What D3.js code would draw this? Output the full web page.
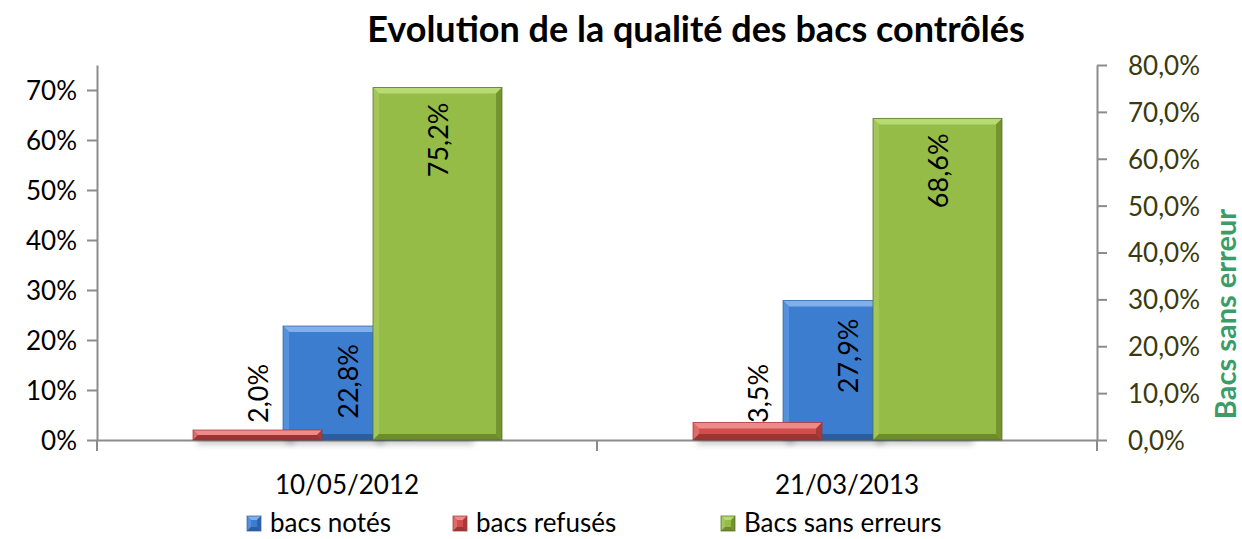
<!DOCTYPE html>
<html>
<head>
<meta charset="utf-8">
<script src="https://cdn.jsdelivr.net/npm/d3@7"></script>
<style>
  body { margin: 0; background: #fff; }
  svg { display: block; font-family: Lato, "Open Sans", sans-serif; }
</style>
</head>
<body>
<div id="chart"></div>
<script>
"use strict";

// Data
const dates = ["10/05/2012", "21/03/2013"];
const notes = [0.228, 0.279];        // bacs notés (left axis)
const refuses = [0.020, 0.035];      // bacs refusés (left axis)
const sansErreurs = [0.752, 0.686];  // Bacs sans erreurs (right axis)
const leftTicks = [0, 0.1, 0.2, 0.3, 0.4, 0.5, 0.6, 0.7];
const rightTicks = [0, 0.1, 0.2, 0.3, 0.4, 0.5, 0.6, 0.7, 0.8];
const seriesNames = ["bacs notés", "bacs refusés", "Bacs sans erreurs"];

const width = 1242, height = 539;
const plotLeft = 97, plotRight = 1097, plotTop = 65, plotBottom = 440;

const pct0 = d3.format(".0%");
const frPct1 = v => (v * 100).toFixed(1).replace(".", ",") + "%";

// colours: body and the four bevel facets
const pal = {
    blue:  {body: "#3c7dd0", top: "#7fb0ec", left: "#5590dc", right: "#2f63a8", bottom: "#2c5d9e", stroke: "#2d5f9e"},
    red:   {body: "#d14e4d", top: "#ee8b88", left: "#e06a68", right: "#a83b39", bottom: "#9a3533", stroke: "#9a3533"},
    green: {body: "#95bc47", top: "#b8da72", left: "#a3c757", right: "#74942f", bottom: "#6d8c2c", stroke: "#4f6a1e"}
};

const x = d3.scaleBand().domain(dates).range([plotLeft, plotRight]).padding(0);
const bw = x.bandwidth();
// position of each series inside a category (bar centres)
const xs = d3.scalePoint().domain(["refuses", "notes", "sans"]).range([bw * 0.321, bw * 0.681]);
const barW = bw * 0.258;

const yL = d3.scaleLinear().domain([0, 0.75]).range([plotBottom, plotTop]);
const yR = d3.scaleLinear().domain([0, 0.8]).range([plotBottom, plotTop]);

const svg = d3.select("#chart").append("svg")
    .attr("width", width)
    .attr("height", height)
    .attr("viewBox", [0, 0, width, height]);

const defs = svg.append("defs");
defs.append("filter").attr("id", "blur").attr("x", "-20%").attr("y", "-100%").attr("width", "140%").attr("height", "300%")
    .append("feGaussianBlur").attr("stdDeviation", 3);

// title
svg.append("text")
    .attr("x", 696).attr("y", 42)
    .attr("text-anchor", "middle")
    .attr("font-weight", "bold")
    .attr("font-size", 36)
    .attr("fill", "#000")
    .text("Evolution de la qualité des bacs contrôlés");

// left axis
const gL = svg.append("g")
    .attr("transform", `translate(${plotLeft},0)`)
    .call(d3.axisLeft(yL).tickValues(leftTicks).tickFormat(pct0).tickSize(10).tickSizeOuter(0).tickPadding(10));
gL.select(".domain").attr("stroke", "#8c8c8c").attr("stroke-width", 2);
gL.selectAll(".tick line").attr("stroke", "#8c8c8c").attr("stroke-width", 2);
gL.selectAll(".tick text").attr("font-size", 26).attr("fill", "#000").attr("font-family", "Lato").attr("dy", "0.36em");

// right axis
const gR = svg.append("g")
    .attr("transform", `translate(${plotRight},0)`)
    .call(d3.axisRight(yR).tickValues(rightTicks).tickFormat(frPct1).tickSize(10).tickSizeOuter(0).tickPadding(21));
gR.select(".domain").attr("stroke", "#8c8c8c").attr("stroke-width", 2);
gR.selectAll(".tick line").attr("stroke", "#8c8c8c").attr("stroke-width", 2);
gR.selectAll(".tick text").attr("font-size", 26).attr("fill", "#3a3a0e").attr("font-family", "Lato").attr("dy", "0.36em");

svg.append("text")
    .attr("transform", `translate(1236,314) rotate(-90)`)
    .attr("text-anchor", "middle")
    .attr("font-weight", "bold")
    .attr("font-size", 29)
    .attr("fill", "#3a9d68")
    .text("Bacs sans erreur");

// bottom axis
const gB = svg.append("g")
    .attr("transform", `translate(0,${plotBottom})`)
    .call(d3.axisBottom(x).tickSize(0).tickPadding(36));
gB.select(".domain").attr("stroke", "#8c8c8c").attr("stroke-width", 2);
gB.selectAll(".tick text").attr("font-size", 26).attr("fill", "#000").attr("font-family", "Lato");
// category separators
svg.append("g").selectAll("line")
    .data([plotLeft, plotLeft + bw, plotRight])
    .join("line")
    .attr("x1", d => d).attr("x2", d => d)
    .attr("y1", plotBottom).attr("y2", plotBottom + 11)
    .attr("stroke", "#8c8c8c").attr("stroke-width", 2);

// bevelled bar
function bevelBar(g, x0, y0, w, h, c, b) {
    b = Math.min(b, h / 2, w / 2);
    const x1 = x0 + w, y1 = y0 + h;
    g.append("rect").attr("x", x0).attr("y", y0).attr("width", w).attr("height", h).attr("fill", c.body);
    const poly = (pts, fill) => g.append("polygon").attr("points", pts.map(p => p.join(",")).join(" ")).attr("fill", fill);
    poly([[x0, y0], [x1, y0], [x1 - b, y0 + b], [x0 + b, y0 + b]], c.top);
    poly([[x0, y0], [x0 + b, y0 + b], [x0 + b, y1 - b], [x0, y1]], c.left);
    poly([[x1, y0], [x1, y1], [x1 - b, y1 - b], [x1 - b, y0 + b]], c.right);
    poly([[x0, y1], [x0 + b, y1 - b], [x1 - b, y1 - b], [x1, y1]], c.bottom);
    g.append("rect").attr("x", x0).attr("y", y0).attr("width", w).attr("height", h)
        .attr("fill", "none").attr("stroke", c.stroke).attr("stroke-width", 1).attr("stroke-opacity", 0.7);
}

const shadows = svg.append("g");
const bars = svg.append("g");

// drawing order: blue behind red, green in front
const series = [
    {key: "notes", values: notes, y: yL, c: pal.blue},
    {key: "refuses", values: refuses, y: yL, c: pal.red},
    {key: "sans", values: sansErreurs, y: yR, c: pal.green}
];

for (const s of series) {
    s.values.forEach((v, i) => {
        const cx = x(dates[i]) + xs(s.key);
        const yTop = s.y(v);
        shadows.append("rect")
            .attr("x", cx - barW / 2 + 4).attr("y", plotBottom - 2)
            .attr("width", barW * 0.75).attr("height", 6)
            .attr("fill", "#000").attr("opacity", 0.25)
            .attr("filter", "url(#blur)");
        bevelBar(bars, cx - barW / 2, yTop, barW, plotBottom - yTop, s.c, 6);
    });
}

// data labels (rotated)
const labels = svg.append("g").attr("font-size", 27).attr("fill", "#000");
refuses.forEach((v, i) => {
    const cx = x(dates[i]) + xs("refuses");
    labels.append("text")
        .attr("transform", `translate(${cx + 10},${yL(0) - 17}) rotate(-90)`)
        .attr("text-anchor", "start")
        .text(frPct1(v));
});
notes.forEach((v, i) => {
    const cx = x(dates[i]) + xs("notes");
    labels.append("text")
        .attr("transform", `translate(${cx + 10},${yL(v) + 18}) rotate(-90)`)
        .attr("text-anchor", "end")
        .text(frPct1(v));
});
sansErreurs.forEach((v, i) => {
    const cx = x(dates[i]) + xs("sans");
    labels.append("text")
        .attr("transform", `translate(${cx + 10},${yR(v) + 15}) rotate(-90)`)
        .attr("text-anchor", "end")
        .text(frPct1(v));
});

// legend
const legendX = [247, 453, 721];
const legendC = [pal.blue, pal.red, pal.green];
const lg = svg.append("g");
seriesNames.forEach((n, i) => {
    bevelBar(lg, legendX[i], 516, 14, 15, legendC[i], 4);
    lg.append("text")
        .attr("x", legendX[i] + 23).attr("y", 532)
        .attr("font-size", 26).attr("fill", "#000")
        .text(n);
});
</script>
</body>
</html>
